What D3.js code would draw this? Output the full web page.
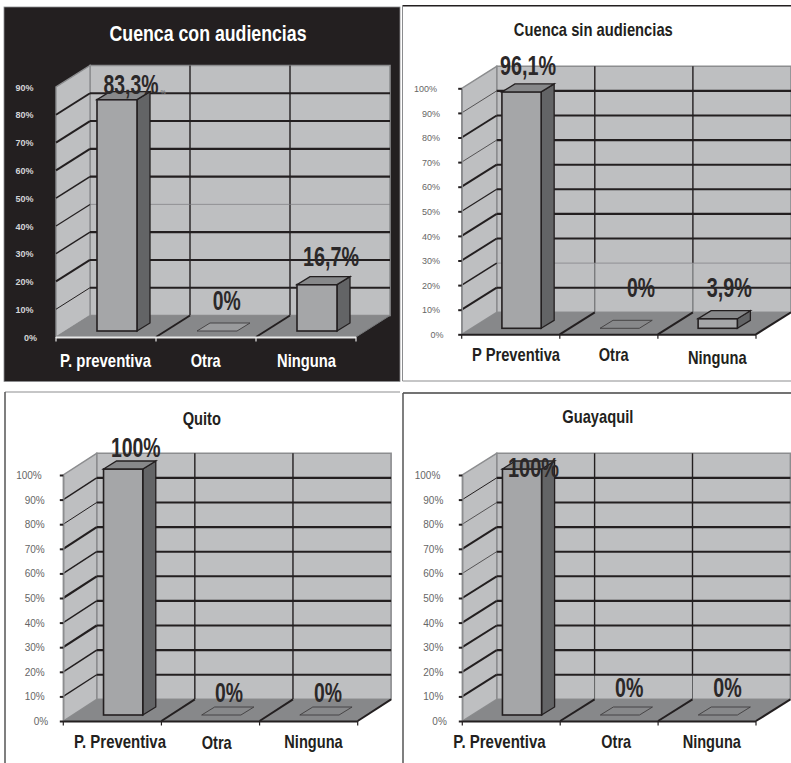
<!DOCTYPE html>
<html lang="es">
<head>
<meta charset="utf-8">
<title>Cuenca, Quito y Guayaquil</title>
<script src="https://cdnjs.cloudflare.com/ajax/libs/d3/7.8.5/d3.min.js"></script>
<style>
  html, body { margin: 0; padding: 0; background: #fff; }
  svg { display: block; }
  text { font-family: "Liberation Sans Narrow", "Liberation Sans", sans-serif; font-weight: bold; }
</style>
</head>
<body>
<svg id="chart" width="791" height="763"></svg>
<script>
// Values of each city, in percent
const titles = ["Cuenca con audiencias", "Cuenca sin audiencias", "Quito", "Guayaquil"];
const categoriesCuencaCon = ["P. preventiva", "Otra", "Ninguna"];
const categoriesCuencaSin = ["P Preventiva", "Otra", "Ninguna"];
const categoriesQuito = ["P. Preventiva", "Otra", "Ninguna"];
const categoriesGuayaquil = ["P. Preventiva", "Otra", "Ninguna"];
const valuesCuencaCon = [83.3, 0, 16.7];
const valuesCuencaSin = [96.1, 0, 3.9];
const valuesQuito = [100, 0, 0];
const valuesGuayaquil = [100, 0, 0];
const labelsCuencaCon = ["83,3%", "0%", "16,7%"];
const labelsCuencaSin = ["96,1%", "0%", "3,9%"];
const labelsQuito = ["100%", "0%", "0%"];
const labelsGuayaquil = ["100%", "0%", "0%"];
const ticksTo90 = [0, 10, 20, 30, 40, 50, 60, 70, 80, 90];
const ticksTo100 = [0, 10, 20, 30, 40, 50, 60, 70, 80, 90, 100];

// Panel geometry and typography, one entry per chart
const panels = [
  { title: [208, 41, 22, 197], cats: categoriesCuencaCon, vals: valuesCuencaCon, labels: labelsCuencaCon, ticks: ticksTo90,
    front: [56, 356], base: 337, top: 87, depth: [34, -21.5], barRise: 6,
    titleFill: "#fff", catFill: "#fff", tickFill: "#d4d5d7", tickRight: 33.5, tickSize: 9, tickWeight: "bold", labelFill: "#2b2829",
    axis: "#e8e8e8", dark: false,
    gridW: [2.1, 2.1, 2.1, 0.7, 2.1, 2.1, 2.1, 2.1, 2.1],
    sideW: [1, 2, 1.3, 1.2, 1.6, 2, 2, 2, 1.2],
    vSplit: 0,
    labelPos: [[131, 94, 55], [226.7, 310, 28], [331, 265.7, 56]],
    catPos: [[105.5, 367, 91], [205.7, 367, 30], [306.5, 367, 59]] },
  { title: [593.3, 36, 18.5, 159], cats: categoriesCuencaSin, vals: valuesCuencaSin, labels: labelsCuencaSin, ticks: ticksTo100,
    front: [461.7, 756], base: 334.3, top: 88.3, depth: [35, -22], barRise: 6,
    titleFill: "#231f20", catFill: "#231f20", tickFill: "#666", tickRight: 440, tickSize: 9, tickWeight: "normal", labelFill: "#2b2829",
    axis: "#231f20", dark: true,
    gridW: [2.1, 0.7, 2.1, 2.1, 2.1, 2.1, 2.1, 2.1, 2.1],
    sideW: [2, 1.6, 2, 2, 1.2, 2, 0.8, 2, 0.8, 2],
    vSplit: 20,
    labelPos: [[528, 75, 56], [641, 296.7, 28], [729.2, 296.7, 45]],
    catPos: [[516, 360.7, 88], [613.7, 360.7, 30], [717.3, 364.3, 58.7]] },
  { title: [201.8, 425, 18.5, 38.3], cats: categoriesQuito, vals: valuesQuito, labels: labelsQuito, ticks: ticksTo100,
    front: [63.3, 357.7], base: 721, top: 475, depth: [33.4, -21.7], barRise: 6,
    titleFill: "#231f20", catFill: "#231f20", tickFill: "#666", tickRight: 44.7, tickSize: 10, tickWeight: "normal", labelFill: "#2b2829",
    axis: "#231f20", dark: true,
    gridW: [2.1, 2.1, 2.1, 2.1, 2.1, 2.1, 2.1, 2.1, 2.1],
    sideW: [1.3, 1.6, 2.2, 1.4, 2.2, 1.4, 2.2, 1, 1.4, 2],
    vSplit: 0,
    labelPos: [[135.8, 456.7, 49.7], [229, 701.7, 28], [328, 701.7, 28]],
    catPos: [[120, 747.7, 92], [216.7, 749.3, 30], [313.5, 747.7, 58.4]] },
  { title: [597.8, 423, 18.5, 71], cats: categoriesGuayaquil, vals: valuesGuayaquil, labels: labelsGuayaquil, ticks: ticksTo100,
    front: [462.3, 756], base: 721, top: 475, depth: [34.4, -21.7], barRise: 6,
    titleFill: "#231f20", catFill: "#231f20", tickFill: "#666", tickRight: 443.3, tickSize: 10, tickWeight: "normal", labelFill: "#2b2829",
    axis: "#231f20", dark: true,
    gridW: [2.1, 2.1, 2.1, 2.1, 2.1, 2.1, 2.1, 2.1, 2.1],
    sideW: [2, 2, 2, 2, 2, 0.8, 2, 0.8, 1, 2],
    vSplit: 10,
    labelPos: [[533.5, 476.7, 51], [629.2, 696.7, 28.3], [727.5, 696.7, 28.4]],
    catPos: [[499.5, 747.7, 92.4], [616.2, 747.7, 29.7], [711.8, 747.7, 58.3]] }
];

const WALL = "#bebfc1", FLOOR = "#87888a", EDGE = "#8c8d8f", INK = "#231f20";
const BAR_FRONT = "#a5a6a8", BAR_SIDE = "#636466", BAR_TOP = "#87888a";
const svg = d3.select("#chart");

// Panel backgrounds and their frames
svg.append("rect").attr("x", 4).attr("y", 7).attr("width", 396).attr("height", 374.5)
  .attr("fill", INK).attr("stroke", "#8c8d8f").attr("stroke-width", 0.8);
[[402.5, 5.7, 791, 5.7, INK, 1.6], [402.5, 5.7, 402.5, 381, "#8c8d8f", 1], [402.5, 381, 791, 381, "#8c8d8f", 1],
 [5, 392, 400, 392, "#8c8d8f", 1], [5, 392, 5, 763, "#555", 1.5],
 [403, 393, 791, 393, "#444", 1.4], [403, 393, 403, 763, "#555", 1.5]].forEach(s => {
  svg.append("line").attr("x1", s[0]).attr("y1", s[1]).attr("x2", s[2]).attr("y2", s[3])
    .attr("stroke", s[4]).attr("stroke-width", s[5]);
});

// Text squeezed to the condensed width each label occupies
function fitted(g, x, y, size, width, fill, str) {
  return g.append("text").attr("x", x).attr("y", y).attr("text-anchor", "middle")
    .attr("font-size", size).attr("fill", fill)
    .attr("textLength", width).attr("lengthAdjust", "spacingAndGlyphs").text(str);
}

const poly = pts => pts.map(p => p.join(",")).join(" ");

panels.forEach((p, panelIndex) => {
  const g = svg.append("g");
  const [x0, x1] = p.front, [dx, dy] = p.depth;
  const maxTick = p.ticks[p.ticks.length - 1];
  const y = d3.scaleLinear().domain([0, maxTick]).range([p.base, p.top]);
  const x = d3.scaleBand().domain(p.cats).range([x0, x1]);
  const step = x.bandwidth();
  const barW = step * 0.4, barOff = step * 0.41;
  const bdx = 13, bdy = -8;

  // Back wall, side wall and floor of the box
  g.append("polygon").attr("points", poly([[x0 + dx, y(0) + dy], [x1 + dx, y(0) + dy], [x1 + dx, y(maxTick) + dy], [x0 + dx, y(maxTick) + dy]]))
    .attr("fill", WALL).attr("stroke", EDGE).attr("stroke-width", 1.6);
  g.append("polygon").attr("points", poly([[x0, y(0)], [x0 + dx, y(0) + dy], [x0 + dx, y(maxTick) + dy], [x0, y(maxTick)]]))
    .attr("fill", WALL).attr("stroke", EDGE).attr("stroke-width", 1.4);

  // Category dividers on the back wall: dark above vSplit, grey below it
  p.cats.slice(1).forEach(c => {
    const vx = x(c) + dx;
    g.append("line").attr("x1", vx).attr("x2", vx).attr("y1", y(maxTick) + dy).attr("y2", y(p.vSplit) + dy)
      .attr("stroke", INK).attr("stroke-width", 1.4);
    if (p.vSplit > 0) {
      g.append("line").attr("x1", vx).attr("x2", vx).attr("y1", y(p.vSplit) + dy).attr("y2", y(0) + dy)
        .attr("stroke", "#5f6062").attr("stroke-width", 1);
    }
  });

  // Horizontal gridlines on the back wall, continued down the side wall
  p.ticks.slice(1, -1).forEach((t, i) => {
    const w = p.gridW[i];
    g.append("line").attr("x1", x0 + dx).attr("x2", x1 + dx).attr("y1", y(t) + dy).attr("y2", y(t) + dy)
      .attr("stroke", w < 1 ? "#7c7d7f" : INK).attr("stroke-width", w);
  });
  p.ticks.slice(1, p.sideW.length + 1).forEach((t, i) => {
    if (t === maxTick) return;
    const w = p.sideW[i];
    g.append("line").attr("x1", x0).attr("x2", x0 + dx).attr("y1", y(t)).attr("y2", y(t) + dy)
      .attr("stroke", w < 1 ? "#3a3738" : INK).attr("stroke-width", w);
  });

  // Floor and its dividers
  g.append("polygon").attr("points", poly([[x0, y(0)], [x1, y(0)], [x1 + dx, y(0) + dy], [x0 + dx, y(0) + dy]]))
    .attr("fill", FLOOR);
  p.cats.slice(1).forEach(c => {
    g.append("line").attr("x1", x(c)).attr("x2", x(c) + dx).attr("y1", y(0)).attr("y2", y(0) + dy)
      .attr("stroke", INK).attr("stroke-width", 2);
  });
  g.append("line").attr("x1", x1).attr("x2", x1 + dx).attr("y1", y(0)).attr("y2", y(0) + dy)
    .attr("stroke", p.dark ? INK : "#77787a").attr("stroke-width", p.dark ? 2 : 1);

  // Value axis ticks and labels, drawn by d3.axisLeft
  const yAxis = d3.axisLeft(y).tickValues(p.ticks).tickFormat(d => d + "%").tickSize(p.dark ? 3.5 : 0).tickSizeOuter(0).tickPadding(0);
  const ga = g.append("g").attr("transform", `translate(${x0},0)`).call(yAxis);
  ga.select(".domain").attr("stroke", p.dark ? EDGE : "none").attr("stroke-width", 1.4);
  ga.selectAll(".tick line").attr("stroke", INK).attr("stroke-width", 2);
  ga.selectAll(".tick text")
    .attr("x", d => p.tickRight - x0 + (d === 0 ? 3.5 : d === 100 ? -3 : 0))
    .attr("dy", "0.35em")
    .attr("fill", p.tickFill)
    .style("font-size", p.tickSize + "px")
    .style("font-weight", p.tickWeight);

  // Category axis along the front edge
  const ticksX = d3.scaleLinear().domain([0, p.cats.length]).range([x0, x1]);
  g.append("line").attr("x1", x0).attr("x2", x1).attr("y1", y(0) + 0.5).attr("y2", y(0) + 0.5)
    .attr("stroke", p.axis).attr("stroke-width", 2);
  d3.range(p.cats.length + 1).forEach(i => {
    g.append("line").attr("x1", ticksX(i)).attr("x2", ticksX(i)).attr("y1", y(0)).attr("y2", y(0) + 4.5)
      .attr("stroke", p.axis).attr("stroke-width", 1.2);
  });

  // Oblique bars: front, side and top faces
  const barTop = v => y(v) - p.barRise;
  p.cats.forEach((c, i) => {
    const v = p.vals[i];
    const bx = x(c) + barOff, yb = y(0) - p.barRise, yt = barTop(v);
    if (v > 0) {
      g.append("polygon").attr("points", poly([[bx + barW, yb], [bx + barW + bdx, yb + bdy], [bx + barW + bdx, yt + bdy], [bx + barW, yt]]))
        .attr("fill", BAR_SIDE).attr("stroke", INK).attr("stroke-width", 1.3);
      g.append("rect").attr("x", bx).attr("y", yt).attr("width", barW).attr("height", yb - yt)
        .attr("fill", BAR_FRONT).attr("stroke", INK).attr("stroke-width", 1.6);
    }
    g.append("polygon").attr("points", poly([[bx, yt], [bx + barW, yt], [bx + barW + bdx, yt + bdy], [bx + bdx, yt + bdy]]))
      .attr("fill", v > 0 ? BAR_TOP : (p.dark ? BAR_TOP : "#9a9b9d"))
      .attr("stroke", v > 0 ? INK : "#3f3d3e").attr("stroke-width", v > 0 ? 1.3 : 0.9);
  });

  // Value labels, category labels and title
  p.labels.forEach((l, i) => {
    const [lx, ly, lw] = p.labelPos[i];
    fitted(g, lx, ly, 28, lw, p.labelFill, l);
  });
  p.cats.forEach((c, i) => {
    const [cx, cy, cw] = p.catPos[i];
    fitted(g, cx, cy, 18.5, cw, p.catFill, c);
  });
  fitted(g, p.title[0], p.title[1], p.title[2], p.title[3], p.titleFill, titles[panelIndex]);
});

// Small stray percent sign beside the first chart's tallest label
svg.append("text").attr("x", 160.5).attr("y", 93.5).attr("font-size", 6).attr("fill", "#77787a").text("%");
</script>
</body>
</html>
